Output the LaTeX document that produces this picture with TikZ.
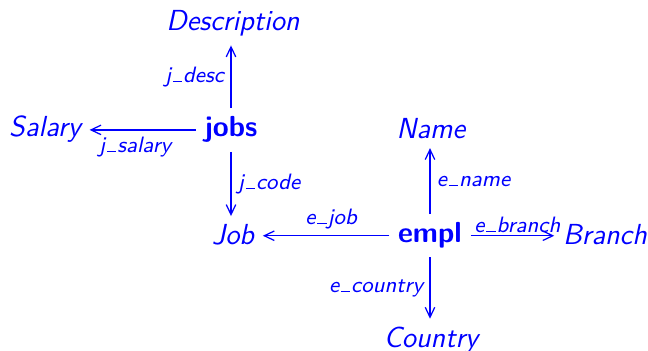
\documentclass[tikz,border=0pt]{standalone}
\usetikzlibrary{arrows.meta}
\newcommand\us{\kern0.08em\rule{0.42em}{0.06em}\kern0.04em}
\begin{document}
\begin{tikzpicture}[x=0.4pt,y=-0.4pt,
  every node/.style={text=blue},
  attr/.style={anchor=base,font=\fontsize{11.6}{13}\selectfont\sffamily\itshape},
  ent/.style={anchor=base,font=\fontsize{11.6}{13}\selectfont\sffamily\bfseries},
  lab/.style={font=\fontsize{8.9}{10}\selectfont\sffamily\itshape,inner sep=2.5pt},
  arr/.style={-{Straight Barb[length=4pt,width=3.8pt,line width=0.5pt]},draw=blue,line width=0.55pt}]
\useasboundingbox (0,0) rectangle (648,351);
\node[attr] (desc) at (233,31) {Description};
\node[ent] (jobs) at (231,137) {jobs};
\node[attr] (salary) at (45,137) {Salary};
\node[attr] (job) at (233,245) {Job};
\node[ent] (empl) at (430,243) {empl};
\node[attr] (name) at (431,139) {Name};
\node[attr] (branch) at (605,245) {Branch};
\node[attr] (country) at (431,348) {Country};
\draw[arr] (jobs.north) -- (jobs.north |- desc.south) node[lab,midway,left] {j\us desc};
\draw[arr] (jobs.west) -- (jobs.west -| salary.east) node[lab,midway,below,xshift=-3pt] {j\us salary};
\draw[arr] (jobs.south) -- (jobs.south |- job.north) node[lab,midway,right] {j\us code};
\draw[arr] (empl.west) -- (empl.west -| job.east) node[lab,midway,above,xshift=2pt] {e\us job};
\draw[arr] (empl.north) -- (empl.north |- name.south) node[lab,midway,right] {e\us name};
\draw[arr] (empl.east) -- (empl.east -| branch.west) node[lab,midway,above,xshift=2pt,inner sep=1pt] {e\us branch};
\draw[arr] (empl.south) -- (empl.south |- country.north) node[lab,midway,left] {e\us country};
\end{tikzpicture}
\end{document}
